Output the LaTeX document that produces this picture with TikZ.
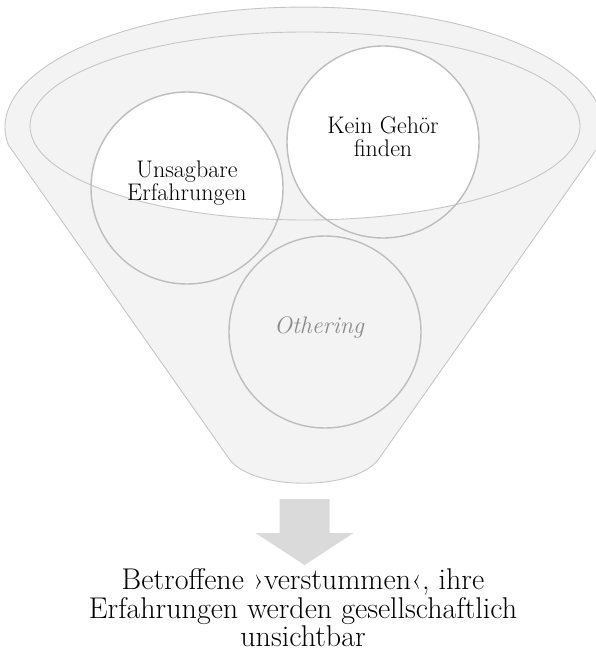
\documentclass[tikz,border=0pt]{standalone}
\usetikzlibrary{positioning}

\definecolor{funnelfill}{HTML}{F3F3F3}
\definecolor{funnelline}{HTML}{C6C6C6}
\definecolor{ringline}{HTML}{BDBDBD}
\definecolor{arrowfill}{HTML}{DADADA}
\definecolor{hiddentext}{HTML}{8A8A8A}

% outline of the funnel: top rim, sides and the rounded spout
\newcommand{\funnelshape}{
  (8.4,145) arc[start angle=171.4, end angle=368.6, x radius=299, y radius=120]
  -- (378,460) .. controls (353,491) and (255,491) .. (230,460) -- cycle}
\newcommand{\opening}{(305,126) ellipse[x radius=275, y radius=94]}

\tikzset{
  ring/.style={circle, minimum size=192pt, inner sep=0pt, fill=white},
  ringtext/.style={align=center, font=\fontsize{24}{23}\selectfont},
}

\begin{document}
\begin{tikzpicture}[x=1pt, y=-1pt]
    \useasboundingbox (0,0) rectangle (596,655);

    % back of the funnel and its opening
    \fill[funnelfill] \funnelshape;

    % the three circles
    \node[ring] (unsagbar) at (187,188) {};
    \node[ring] (gehoer) at (383,142) {};
    \node[ring] (othering) at (325,332) {};

    % front of the funnel over the circles
    \fill[funnelfill, even odd rule] \funnelshape \opening;

    \begin{scope}[draw=funnelline, line width=0.9pt]
      \draw \funnelshape;
      \draw \opening;
    \end{scope}

    \begin{scope}[draw=ringline, line width=1.4pt]
      \draw (unsagbar.center) circle[radius=96];
      \draw (gehoer.center) circle[radius=96];
      \draw (othering.center) circle[radius=96];
    \end{scope}

    \node[ringtext] (unsagbartext) at ([yshift=5pt]unsagbar.center) {Unsagbare\\Erfahrungen};
    \node[ringtext] (gehoertext) at ([yshift=5pt]gehoer.center) {Kein Gehör\\finden};
    \node[ringtext, text=hiddentext] (otheringtext) at ([xshift=-6pt, yshift=5pt]othering.center) {\itshape Othering};

    % block arrow and result
    \fill[arrowfill] (279.5,499) -- (329.5,499) -- (329.5,533) -- (353.5,533)
      -- (304.5,565) -- (255.5,533) -- (279.5,533) -- cycle;

    \node[align=center, font=\fontsize{30}{28.5}\selectfont] (result) at (303,608)
      {Betroffene ›verstummen‹, ihre\\Erfahrungen werden gesellschaftlich\\unsichtbar};
\end{tikzpicture}
\end{document}
